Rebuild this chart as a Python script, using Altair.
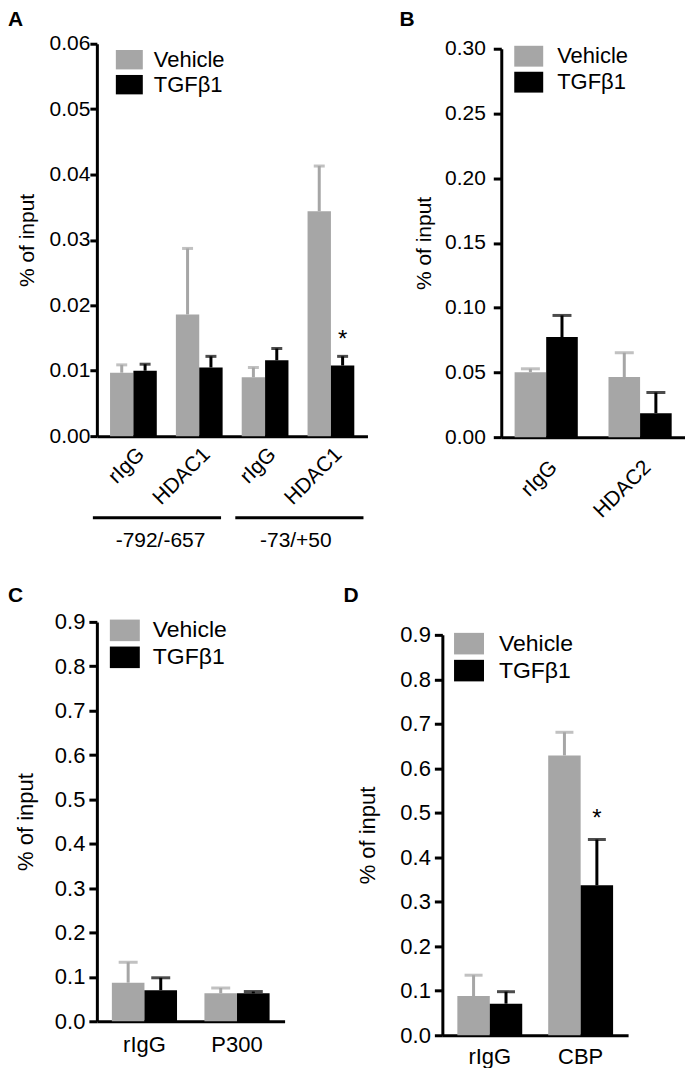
import altair as alt
import pandas as pd

FONT = "Liberation Sans"
GREY = "#a6a6a6"
BLACK = "#000000"
TREATMENTS = ["Vehicle", "TGF\u03b21"]
SWATCH = "M-1,-0.72H1V0.72H-1Z"

# ---------------- data ----------------
# Panel A
a_regions = ["-792/-657", "-792/-657", "-73/+50", "-73/+50"]
a_antibodies = ["rIgG", "HDAC1", "rIgG", "HDAC1"]
a_vehicle = [0.0097, 0.0186, 0.0090, 0.0344]
a_vehicle_upper = [0.0109, 0.0287, 0.0105, 0.0413]
a_tgf = [0.0100, 0.0105, 0.0116, 0.0108]
a_tgf_upper = [0.0110, 0.0122, 0.0134, 0.0122]
a_sig = ["", "", "", "*"]
a_ticks = [0.0, 0.01, 0.02, 0.03, 0.04, 0.05, 0.06]

# Panel B
b_regions = ["", ""]
b_antibodies = ["rIgG", "HDAC2"]
b_vehicle = [0.0502, 0.0464]
b_vehicle_upper = [0.0528, 0.0652]
b_tgf = [0.0773, 0.0185]
b_tgf_upper = [0.0940, 0.0345]
b_sig = ["", ""]
b_ticks = [0.0, 0.05, 0.10, 0.15, 0.20, 0.25, 0.30]

# Panel C
c_regions = ["", ""]
c_antibodies = ["rIgG", "P300"]
c_vehicle = [0.087, 0.063]
c_vehicle_upper = [0.133, 0.075]
c_tgf = [0.070, 0.063]
c_tgf_upper = [0.098, 0.067]
c_sig = ["", ""]
c_ticks = [0.0, 0.1, 0.2, 0.3, 0.4, 0.5, 0.6, 0.7, 0.8, 0.9]

# Panel D
d_regions = ["", ""]
d_antibodies = ["rIgG", "CBP"]
d_vehicle = [0.088, 0.629]
d_vehicle_upper = [0.135, 0.681]
d_tgf = [0.071, 0.337]
d_tgf_upper = [0.098, 0.440]
d_sig = ["", "*"]
d_ticks = c_ticks


def frame(regions, antibodies, veh, veh_up, tgf, tgf_up, sig):
    rows = []
    for i, ab in enumerate(antibodies):
        key = f"{regions[i]}|{ab}"
        rows.append(dict(key=key, treatment=TREATMENTS[0], mean=veh[i], upper=veh_up[i], sig=""))
        rows.append(dict(key=key, treatment=TREATMENTS[1], mean=tgf[i], upper=tgf_up[i], sig=sig[i]))
    return pd.DataFrame(rows)


def panel(df, cfg, groups=None):
    keys = list(dict.fromkeys(df["key"]))
    n = len(keys)
    W, H = cfg["w"], cfg["h"]
    pi, po = cfg["pi"], cfg["po"]
    bandwidth = W * (1 - pi) / (n - pi + 2 * po)
    xscale = alt.Scale(domain=keys, paddingInner=pi, paddingOuter=po)
    angle = cfg["angle"]
    x_axis = alt.Axis(
        labelExpr="split(datum.label, '|')[1]",
        labelAngle=angle,
        labelAlign="right" if angle else "center",
        labelBaseline="top",
        labelPadding=cfg["xlp"],
        ticks=False, tickSize=0,
        domainWidth=3, domainColor=BLACK,
        labelFont=FONT, labelFontSize=cfg["fs"], labelColor=BLACK,
        grid=False,
    )
    x = alt.X("key:N", scale=xscale, axis=x_axis, title=None)
    xo = alt.XOffset("treatment:N", scale=alt.Scale(domain=TREATMENTS, range=[0, bandwidth],
                                                    paddingInner=0, paddingOuter=0))
    y_axis = alt.Axis(
        values=cfg["ticks"], format=cfg["fmt"],
        tickSize=cfg["tick"], tickWidth=3, tickColor=BLACK,
        domainWidth=3, domainColor=BLACK,
        labelPadding=cfg["ylp"], titlePadding=cfg["tp"],
        labelFont=FONT, titleFont=FONT,
        labelFontSize=cfg["fs"], titleFontSize=cfg["fs"],
        titleFontWeight="normal", labelColor=BLACK, titleColor=BLACK,
        grid=False,
    )
    yscale = alt.Scale(domain=[0, cfg["ticks"][-1]], nice=False, zero=True, range=[H, cfg["ytop"]])
    y = alt.Y("mean:Q", scale=yscale, axis=y_axis, title="% of input")
    cscale = alt.Scale(domain=TREATMENTS, range=[GREY, BLACK])
    legend = alt.Legend(
        title=None, orient="none", legendX=cfg["lgx"], legendY=cfg["lgy"],
        symbolType=SWATCH, symbolSize=cfg["sym"], symbolStrokeWidth=0, symbolOpacity=1,
        labelFont=FONT, labelFontSize=cfg["lfs"], labelColor=BLACK,
        labelOffset=cfg["lo"], rowPadding=cfg["rp"], padding=0,
    )
    base = alt.Chart(df)
    bars = base.mark_bar().encode(
        x=x, xOffset=xo, y=y,
        color=alt.Color("treatment:N", scale=cscale, legend=legend))
    err = base.mark_rule(strokeWidth=3).encode(
        x=x, xOffset=xo, y=alt.Y("mean:Q", scale=yscale, axis=y_axis, title="% of input"), y2="upper:Q",
        stroke=alt.Stroke("treatment:N", scale=cscale, legend=None))
    caps = base.mark_tick(thickness=3, size=cfg["cap"]).encode(
        x=x, xOffset=xo, y=alt.Y("upper:Q", scale=yscale, axis=y_axis, title="% of input"),
        fill=alt.Fill("treatment:N", scale=cscale, legend=None))
    layers = [bars, err, caps]
    if any(df["sig"] != ""):
        stars = base.transform_filter("datum.sig != ''").mark_text(
            font=FONT, fontSize=24, color=BLACK, baseline="alphabetic", dy=cfg["sdy"]
        ).encode(x=x, xOffset=xo, y=alt.Y("upper:Q", scale=yscale, axis=y_axis, title="% of input"),
                 text="sig:N")
        layers.append(stars)
    letter = alt.Chart(alt.Data(values=[{"t": cfg["letter"]}])).mark_text(
        align="left", baseline="top", font=FONT, fontSize=21, fontWeight="bold", color=BLACK
    ).encode(x=alt.value(cfg["lx"]), y=alt.value(cfg["ly"]), text="t:N")
    layers.append(letter)
    core = alt.layer(*layers)
    if groups is None:
        return core.properties(width=W, height=H)
    gscale = alt.Scale(domain=list(groups["label"]), range=cfg["grange"], paddingInner=0.1, paddingOuter=0)
    gline = alt.Chart(groups).mark_rule(strokeWidth=3, color=BLACK).encode(
        x=alt.X("label:N", scale=gscale, axis=None, bandPosition=0),
        x2=alt.X2("label:N", bandPosition=1),
        y=alt.value(H + 81.7))
    gtext = alt.Chart(groups).mark_text(
        font=FONT, fontSize=cfg["fs"], color=BLACK, baseline="top", align="center"
    ).encode(
        x=alt.X("label:N", scale=gscale, axis=None, bandPosition=0.47),
        y=alt.value(H + 94), text="label:N")
    return alt.layer(core, gline, gtext).resolve_scale(x="independent").properties(width=W, height=H)


dfA = frame(a_regions, a_antibodies, a_vehicle, a_vehicle_upper, a_tgf, a_tgf_upper, a_sig)
dfB = frame(b_regions, b_antibodies, b_vehicle, b_vehicle_upper, b_tgf, b_tgf_upper, b_sig)
dfC = frame(c_regions, c_antibodies, c_vehicle, c_vehicle_upper, c_tgf, c_tgf_upper, c_sig)
dfD = frame(d_regions, d_antibodies, d_vehicle, d_vehicle_upper, d_tgf, d_tgf_upper, d_sig)

groupsA = pd.DataFrame({"label": list(dict.fromkeys(a_regions))})

A = panel(dfA, dict(w=271, h=393, ytop=0, pi=0.29, po=0.2, angle=-45, xlp=7, fs=21, ticks=a_ticks, fmt=".2f",
                    tick=7, ylp=0, tp=11.5, lgx=19, lgy=2.5, sym=729, lfs=22, lo=11, rp=0,
                    cap=11, sdy=-9.3, letter="A", lx=-89, ly=-35, grange=[-4, 267]), groups=groupsA)
B = panel(dfB, dict(w=184, h=394, ytop=5, pi=0.327, po=0.142, angle=-45, xlp=19, fs=21, ticks=b_ticks, fmt=".2f",
                    tick=8, ylp=8, tp=10.5, lgx=13, lgy=-2, sym=841, lfs=22, lo=14, rp=0,
                    cap=19, sdy=-10, letter="B", lx=-102, ly=-35))
C = panel(dfC, dict(w=188, h=400, ytop=0, pi=0.296, po=0.162, angle=0, xlp=13.5, fs=22, ticks=c_ticks, fmt=".1f",
                    tick=8, ylp=4, tp=17, lgx=13, lgy=-6.5, sym=900, lfs=23, lo=13, rp=0,
                    cap=19, sdy=-10, letter="C", lx=-89, ly=-36.6))
D = panel(dfD, dict(w=186, h=414, ytop=13, pi=0.286, po=0.165, angle=0, xlp=11, fs=22, ticks=d_ticks, fmt=".1f",
                    tick=8, ylp=4, tp=20, lgx=11.7, lgy=6.8, sym=900, lfs=23, lo=15, rp=0,
                    cap=18, sdy=-13.8, letter="D", lx=-99, ly=-36.6))


def indep(c):
    return c.resolve_scale(color="independent", xOffset="independent", fill="independent",
                           stroke="independent").resolve_legend(color="independent")


row1 = indep(alt.hconcat(A, B, spacing=32))
row2 = indep(alt.hconcat(C, D, spacing=59))

chart = (
    indep(alt.vconcat(row1, row2, spacing=34))
    .properties(padding=0)
    .configure_view(stroke=None)
)

chart.save("out.html", embed_options={"renderer": "svg", "actions": False})
